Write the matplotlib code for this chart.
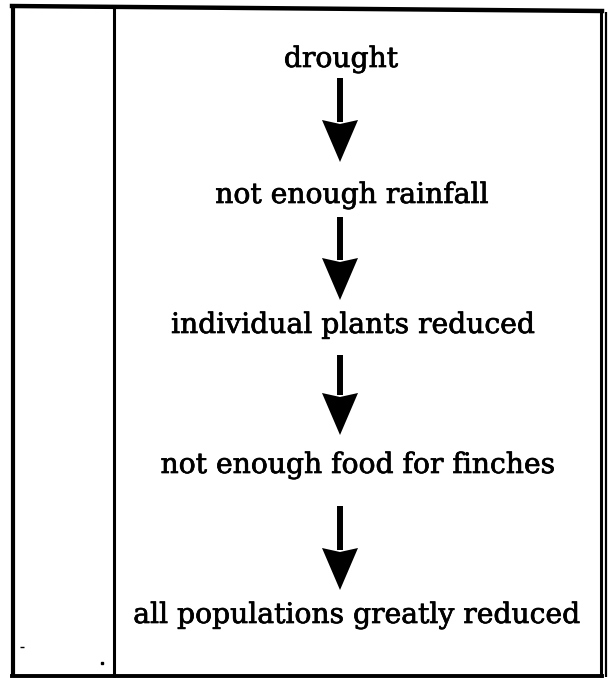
import matplotlib
matplotlib.use("Agg")
import matplotlib.pyplot as plt
from matplotlib.patches import Polygon
import matplotlib.patheffects as pe

# flowchart content
steps = ["drought", "not enough rainfall", "individual plants reduced",
         "not enough food for finches", "all populations greatly reduced"]

# layout (pixel coordinates, y downward)
step_baseline = [67, 203, 333, 473, 623]
step_x = [341, 352, 353, 358, 357]
arrow_x = 340
arrow_top = [78, 217, 355, 506]
arrow_tip = [162, 300, 435, 590]

W, H = 610, 678
fig = plt.figure(figsize=(W / 100, H / 100), dpi=100)
ax = fig.add_axes([0, 0, 1, 1])
ax.set_xlim(0, W)
ax.set_ylim(H, 0)
ax.axis("off")

# frame lines
ax.plot([13, 13], [6, 677], color="black", lw=3.0, solid_capstyle="butt")
ax.plot([12, 602], [6, 11], color="black", lw=3.2)
ax.plot([12, 602], [676, 676], color="black", lw=2.8)
ax.plot([114, 114], [7, 677], color="black", lw=2.2, solid_capstyle="butt")
ax.plot([601, 601], [11, 677], color="black", lw=2.2, solid_capstyle="butt")
ax.plot([606, 606], [12, 677], color="black", lw=1.6, solid_capstyle="butt")

# specks
ax.plot([22], [647], marker="_", color="black", ms=3, mew=1)
ax.plot([102], [663], marker="s", color="black", ms=1.5)

for x, y, t in zip(step_x, step_baseline, steps):
    ax.text(x, y, t, ha="center", va="baseline", fontsize=20.3,
            family="DejaVu Serif", color="black",
            path_effects=[pe.withStroke(linewidth=0.5, foreground="black")])

head_len, head_half = 42, 18
for top, tip in zip(arrow_top, arrow_tip):
    ax.plot([arrow_x, arrow_x], [top, tip - head_len + 2], color="black", lw=4.3,
            solid_capstyle="butt")
    ax.add_patch(Polygon([[arrow_x - head_half, tip - head_len],
                          [arrow_x, tip - head_len + 4],
                          [arrow_x + head_half, tip - head_len],
                          [arrow_x, tip]], closed=True, color="black", lw=0))

fig.savefig("out.png", dpi=100)
